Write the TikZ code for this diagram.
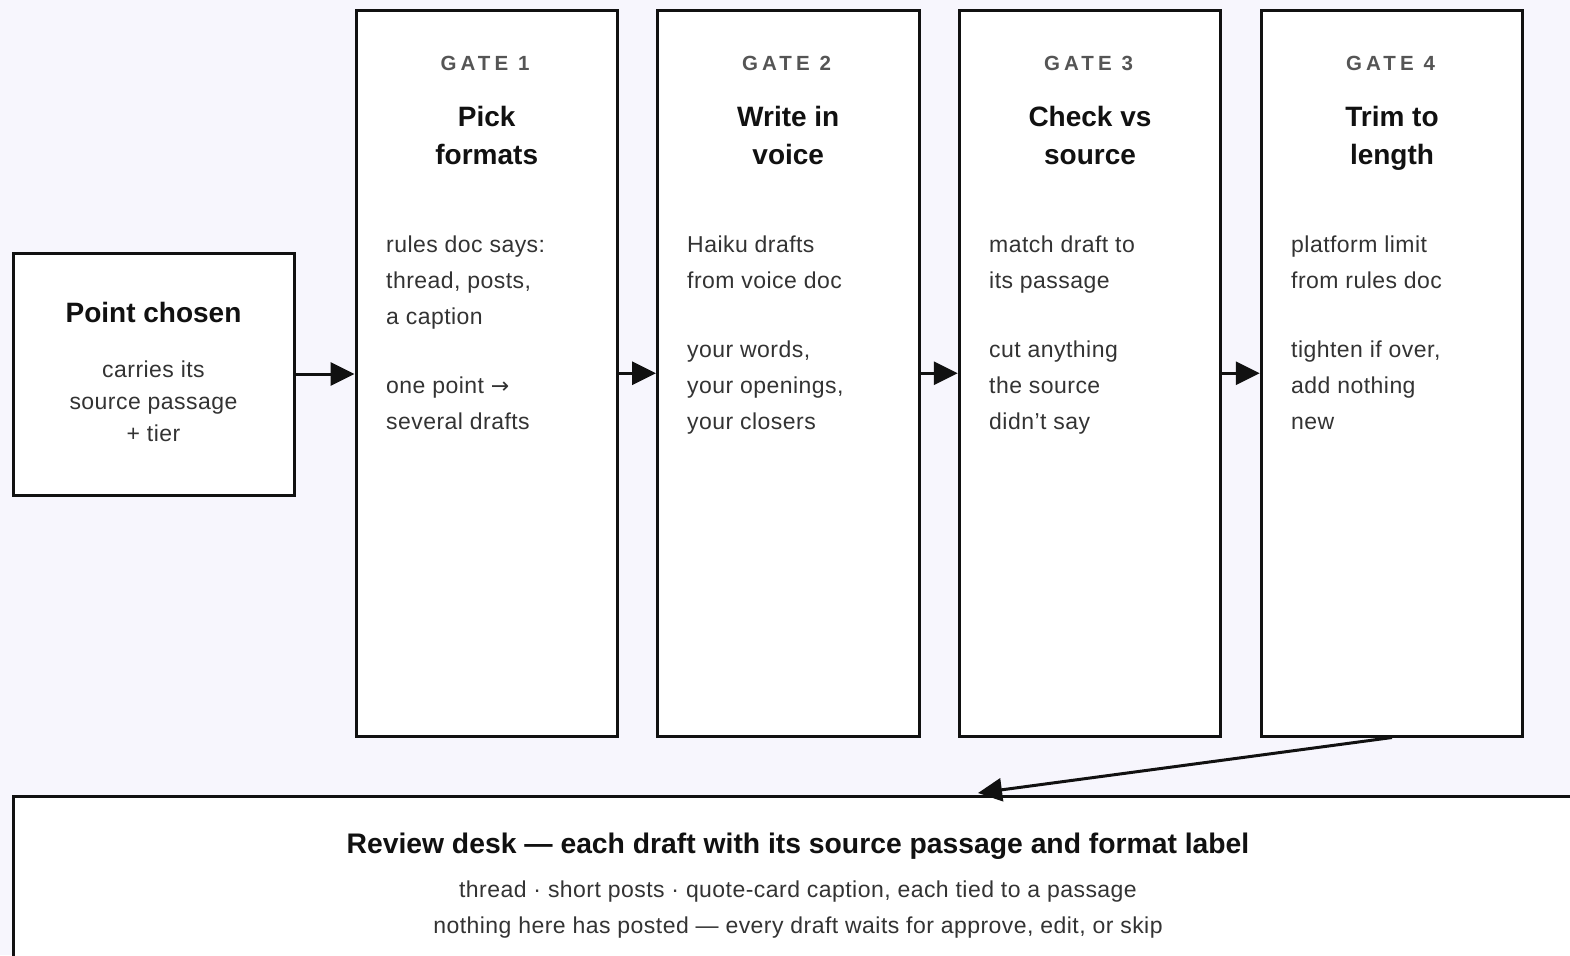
\documentclass[tikz,border=0pt]{standalone}
\usepackage{fontspec}
\setmainfont{Liberation Sans}
\newfontfamily\arrowfont{DejaVu Sans}
\usetikzlibrary{arrows.meta}
\definecolor{bg}{HTML}{F7F6FD}
\definecolor{ink}{HTML}{111111}
\definecolor{bodyc}{HTML}{333333}
\definecolor{gatec}{HTML}{555555}
\tikzset{
  box/.style={draw=ink, line width=3pt, fill=white, inner sep=0pt},
  ttl/.style={font=\fontsize{28}{34}\selectfont\bfseries, text=ink, anchor=base, inner sep=0pt},
  gatelbl/.style={font=\fontsize{20.5}{24}\selectfont\bfseries\addfontfeature{LetterSpace=20}, text=gatec, anchor=base, inner sep=0pt},
  bodytxt/.style={font=\fontsize{23}{28}\selectfont\addfontfeature{LetterSpace=2}, text=bodyc, anchor=base west, inner sep=0pt},
  ctrtxt/.style={font=\fontsize{23}{28}\selectfont\addfontfeature{LetterSpace=2}, text=bodyc, anchor=base, inner sep=0pt},
  flow/.style={draw=ink, line width=3pt, -{Triangle[length=24pt,width=23pt]}},
}
\begin{document}
\begin{tikzpicture}[x=1pt,y=-1pt]
\useasboundingbox (0,0) rectangle (1570,955);
\fill[bg] (0,0) rectangle (1570,955);
\clip (0,0) rectangle (1570,955);

% boxes
\node[box, minimum width=281pt, minimum height=242pt] (pc) at (153.5,374) {};
\node[box, minimum width=261.5pt, minimum height=725.5pt] (g1) at (486.75,373.25) {};
\node[box, minimum width=261.5pt, minimum height=725.5pt] (g2) at (788.25,373.25) {};
\node[box, minimum width=261.5pt, minimum height=725.5pt] (g3) at (1090,373.25) {};
\node[box, minimum width=261.5pt, minimum height=725.5pt] (g4) at (1392,373.25) {};
\node[box, minimum width=1570pt, minimum height=194pt] (rv) at (798,893) {};

% point chosen
\node[ttl] (pct) at (153.5,322) {Point chosen};
\node[ctrtxt] (pc1) at (153.5,377) {carries its};
\node[ctrtxt] (pc2) at (153.5,409) {source passage};
\node[ctrtxt] (pc3) at (153.5,441) {+ tier};

% gate 1
\node[gatelbl] (g1g) at (485,71) {GATE 1};
\node[ttl] (g1t1) at (486.75,127) {Pick};
\node[ttl] (g1t2) at (486.75,164) {formats};
\node[bodytxt] (g1a) at (386,252) {rules doc says:};
\node[bodytxt] (g1b) at (386,288) {thread, posts,};
\node[bodytxt] (g1c) at (386,324) {a caption};
\node[bodytxt] (g1d) at (386,393) {one point {\arrowfont\fontsize{22}{24}\selectfont →}};
\node[bodytxt] (g1e) at (386,429) {several drafts};

% gate 2
\node[gatelbl] (g2g) at (786.5,71) {GATE 2};
\node[ttl] (g2t1) at (788.25,127) {Write in};
\node[ttl] (g2t2) at (788.25,164) {voice};
\node[bodytxt] (g2a) at (687,252) {Haiku drafts};
\node[bodytxt] (g2b) at (687,288) {from voice doc};
\node[bodytxt] (g2c) at (687,357) {your words,};
\node[bodytxt] (g2d) at (687,393) {your openings,};
\node[bodytxt] (g2e) at (687,429) {your closers};

% gate 3
\node[gatelbl] (g3g) at (1088.5,71) {GATE 3};
\node[ttl] (g3t1) at (1090,127) {Check vs};
\node[ttl] (g3t2) at (1090,164) {source};
\node[bodytxt] (g3a) at (989,252) {match draft to};
\node[bodytxt] (g3b) at (989,288) {its passage};
\node[bodytxt] (g3c) at (989,357) {cut anything};
\node[bodytxt] (g3d) at (989,393) {the source};
\node[bodytxt] (g3e) at (989,429) {didn’t say};

% gate 4
\node[gatelbl] (g4g) at (1390.5,71) {GATE 4};
\node[ttl] (g4t1) at (1392,127) {Trim to};
\node[ttl] (g4t2) at (1392,164) {length};
\node[bodytxt] (g4a) at (1291,252) {platform limit};
\node[bodytxt] (g4b) at (1291,288) {from rules doc};
\node[bodytxt] (g4c) at (1291,357) {tighten if over,};
\node[bodytxt] (g4d) at (1291,393) {add nothing};
\node[bodytxt] (g4e) at (1291,429) {new};

% review desk
\node[ttl, font=\fontsize{28.3}{33}\selectfont\bfseries] (rvt) at (798,853) {Review desk — each draft with its source passage and format label};
\node[ctrtxt] (rv1) at (798,897) {thread · short posts · quote-card caption, each tied to a passage};
\node[ctrtxt] (rv2) at (798,933) {nothing here has posted — every draft waits for approve, edit, or skip};

% connectors
\coordinate (rvin) at (978,793);
\draw[flow] (pc.east) -- (pc.east -| g1.west);
\draw[flow] (g1.east) -- (g2.west);
\draw[flow] (g2.east) -- (g3.west);
\draw[flow] (g3.east) -- (g4.west);
\draw[flow] (g4.south) -- (rvin);
\end{tikzpicture}
\end{document}
